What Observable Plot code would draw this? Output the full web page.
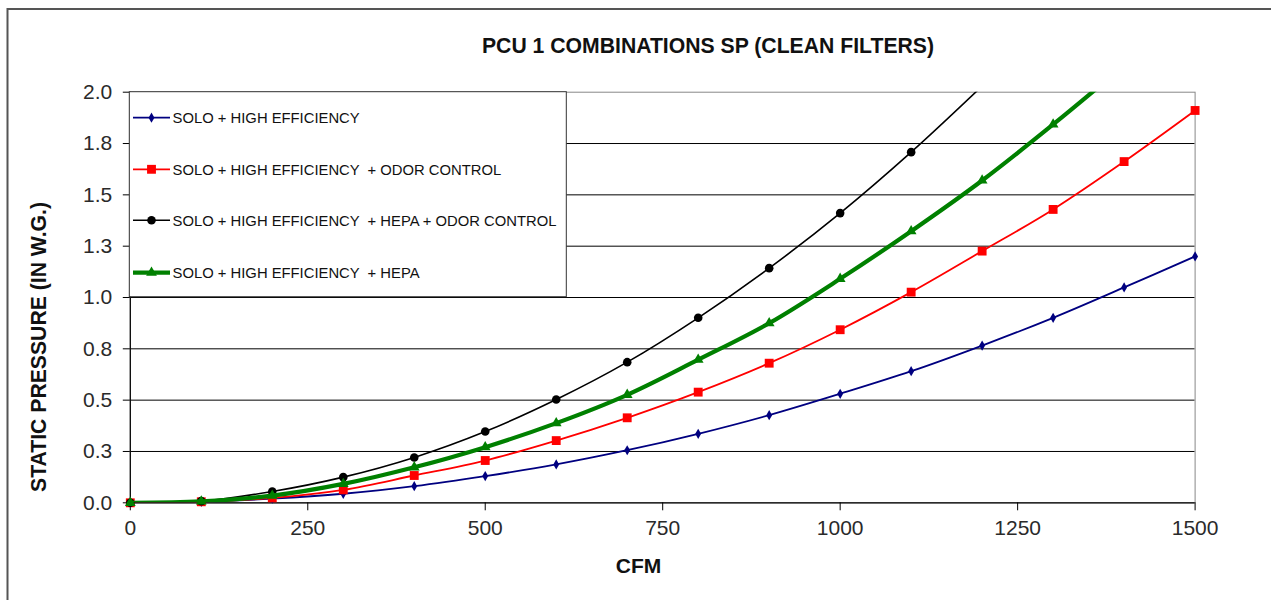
<!DOCTYPE html>
<html><head><meta charset="utf-8">
<script src="https://cdn.jsdelivr.net/npm/d3@7"></script>
<script src="https://cdn.jsdelivr.net/npm/@observablehq/plot@0.6"></script>
<style>body{margin:0;background:#fff;} svg{display:block}</style>
</head><body><div id="chart"></div>
<script>
// ---- data ----
const cfm = [0, 100, 200, 300, 400, 500, 600, 700, 800, 900, 1000, 1100, 1200, 1300, 1400, 1500];
const soloHE = [0, 0.005, 0.02, 0.044, 0.081, 0.13, 0.187, 0.256, 0.336, 0.427, 0.531, 0.641, 0.766, 0.901, 1.049, 1.2];
const soloHEOdor = [0, 0.005, 0.024, 0.063, 0.133, 0.206, 0.303, 0.414, 0.539, 0.68, 0.843, 1.026, 1.226, 1.429, 1.662, 1.911];
const soloHEHepaOdor = [0, 0.008, 0.055, 0.125, 0.221, 0.347, 0.503, 0.685, 0.901, 1.143, 1.411, 1.708, 2.03];
const soloHEHepa = [0, 0.007, 0.035, 0.092, 0.173, 0.271, 0.388, 0.526, 0.697, 0.875, 1.091, 1.323, 1.57, 1.843, 2.13];
const seriesNames = ["SOLO + HIGH EFFICIENCY", "SOLO + HIGH EFFICIENCY  + ODOR CONTROL", "SOLO + HIGH EFFICIENCY  + HEPA + ODOR CONTROL", "SOLO + HIGH EFFICIENCY  + HEPA"];
const xTicks = [0, 250, 500, 750, 1000, 1250, 1500];
const yTicks = [0, 0.25, 0.5, 0.75, 1, 1.25, 1.5, 1.75, 2];
const yTickLabels = ["0.0", "0.3", "0.5", "0.8", "1.0", "1.3", "1.5", "1.8", "2.0"];
const title = "PCU 1 COMBINATIONS SP (CLEAN FILTERS)";
const xTitle = "CFM";
const yTitle = "STATIC PRESSURE (IN W.G.)";

// ---- styles ----
const styles = [
  {color: "#000080", symbol: "diamond", r: 3.1, width: 1.8},
  {color: "#ff0000", symbol: "square", r: 5.0, width: 1.8},
  {color: "#000000", symbol: "circle", r: 4.3, width: 1.6},
  {color: "#008000", symbol: "triangle", r: 4.0, width: 4.2}
];
const seriesValues = [soloHE, soloHEOdor, soloHEHepaOdor, soloHEHepa];
const rows = seriesValues.flatMap((vals, k) => vals.map((v, i) => ({cfm: cfm[i], sp: v, k})));

const FONT = "'Liberation Sans', Arial, sans-serif";
const marks = [
  Plot.ruleY(yTicks.filter(d => d > 0 && d < 2), {stroke: "#000", strokeWidth: 1}),
  Plot.frame({stroke: "#888", strokeWidth: 1}),
  Plot.ruleX([0], {stroke: "#000", strokeWidth: 1.2}),
  Plot.ruleY([0], {stroke: "#000", strokeWidth: 1.2}),
  Plot.axisY({ticks: yTicks, tickFormat: d => yTickLabels[yTicks.indexOf(d)], tickSize: 7, tickPadding: 11, fontSize: 21, label: null, stroke: "#000", fill: "#2a2a2a"}),
  Plot.axisX({ticks: xTicks, tickFormat: d => String(d), tickSize: 8, tickPadding: 9, fontSize: 21, label: null, stroke: "#000", fill: "#2a2a2a"})
];
styles.forEach((s, k) => {
  const data = rows.filter(d => d.k === k);
  marks.push(Plot.line(data, {x: "cfm", y: "sp", stroke: s.color, strokeWidth: s.width, curve: "catmull-rom", clip: true}));
  marks.push(Plot.dot(data.filter(d => d.sp <= 2), {x: "cfm", y: "sp", symbol: () => s.symbol, fill: s.color, r: s.r, stroke: "none"}));
});

const plot = Plot.plot({
  width: 1271, height: 600,
  marginLeft: 129.8, marginRight: 76.4, marginTop: 91.7, marginBottom: 97.7,
  style: {fontFamily: FONT, background: "#fff", color: "#222", overflow: "visible"},
  x: {domain: [0, 1500]},
  y: {domain: [0, 2]},
  marks
});
document.getElementById("chart").appendChild(plot);

const svg = d3.select(plot);
// outer chart border
svg.append("rect").attr("x", 7.5).attr("y", 9).attr("width", 1400).attr("height", 800)
  .attr("fill", "none").attr("stroke", "#555").attr("stroke-width", 2);
// title and axis titles
svg.append("text").attr("x", 708).attr("y", 53).attr("text-anchor", "middle")
  .attr("font-family", FONT).attr("font-weight", "bold").attr("font-size", 21.2).attr("fill", "#111").text(title);
svg.append("text").attr("x", 638.5).attr("y", 573).attr("text-anchor", "middle")
  .attr("font-family", FONT).attr("font-weight", "bold").attr("font-size", 21).attr("fill", "#111").text(xTitle);
svg.append("text").attr("transform", "translate(45.5,347) rotate(-90)").attr("text-anchor", "middle")
  .attr("font-family", FONT).attr("font-weight", "bold").attr("font-size", 21.2).attr("fill", "#111").text(yTitle);

// legend inside the plot area
const lg = svg.append("g");
lg.append("rect").attr("x", 129.3).attr("y", 91.7).attr("width", 437).attr("height", 205)
  .attr("fill", "#fff").attr("stroke", "#333").attr("stroke-width", 1);
const legendY = [117.7, 169.3, 220.3, 272.7];
const symbolMap = {diamond: d3.symbolDiamond, square: d3.symbolSquare, circle: d3.symbolCircle, triangle: d3.symbolTriangle};
styles.forEach((s, k) => {
  const y = legendY[k];
  lg.append("line").attr("x1", 133).attr("x2", 170).attr("y1", y).attr("y2", y)
    .attr("stroke", s.color).attr("stroke-width", s.width);
  lg.append("path").attr("transform", `translate(151.5,${y})`)
    .attr("d", d3.symbol(symbolMap[s.symbol], Math.PI * s.r * s.r)()).attr("fill", s.color);
  lg.append("text").attr("x", 172.6).attr("y", y).attr("dy", "0.36em").attr("text-anchor", "start")
    .attr("font-family", FONT).attr("font-size", 14.8).attr("fill", "#111")
    .attr("xml:space", "preserve").style("white-space", "pre").text(seriesNames[k]);
});
</script>
</body></html>
